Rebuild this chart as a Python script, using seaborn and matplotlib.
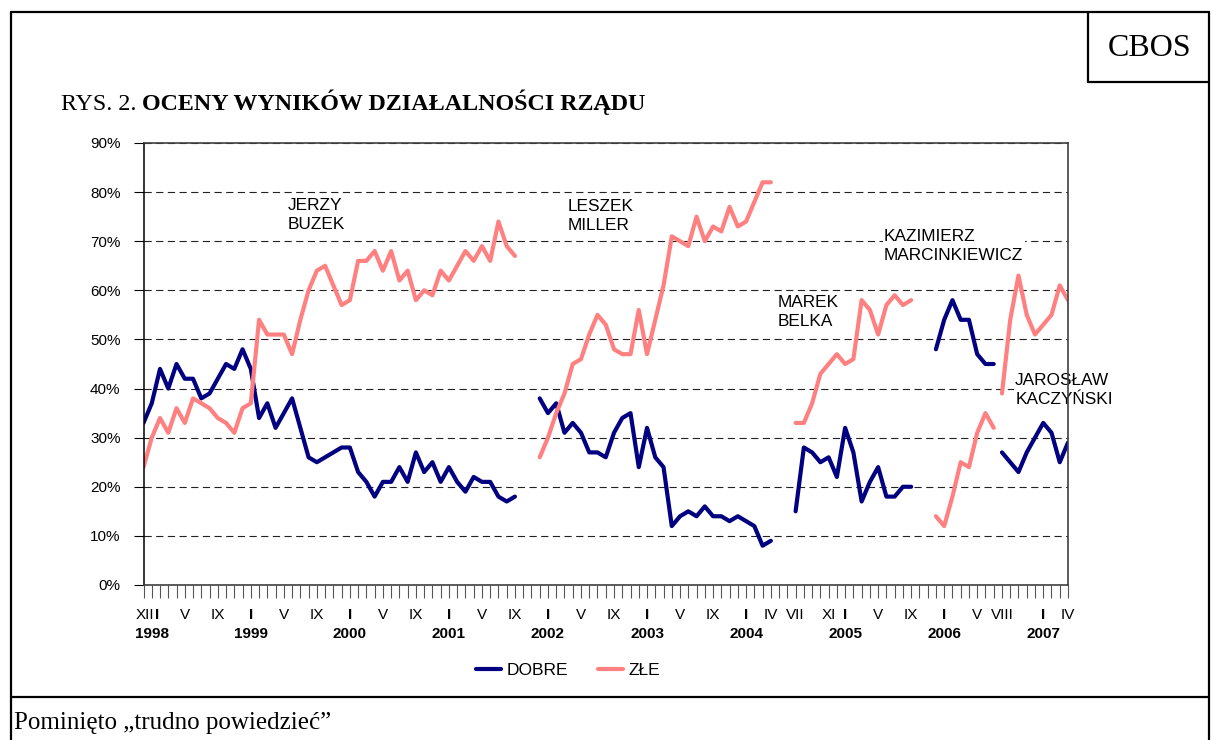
import matplotlib
matplotlib.use("Agg")
import matplotlib.pyplot as plt
import matplotlib.transforms as mtransforms
from matplotlib.lines import Line2D
import numpy as np
import pandas as pd
import seaborn as sns

# months counted from XII 1997 (index 0) to IV 2007 (index 112)
buzek_start = 0
buzek_dobre = [33, 37, 44, 40, 45, 42, 42, 38, 39, 42, 45, 44, 48, 44, 34, 37, 32, 35, 38, 32,
               26, 25, 26, 27, 28, 28, 23, 21, 18, 21, 21, 24, 21, 27, 23, 25, 21, 24, 21, 19,
               22, 21, 21, 18, 17, 18]
buzek_zle = [24, 30, 34, 31, 36, 33, 38, 37, 36, 34, 33, 31, 36, 37, 54, 51, 51, 51, 47, 54,
             60, 64, 65, 61, 57, 58, 66, 66, 68, 64, 68, 62, 64, 58, 60, 59, 64, 62, 65, 68,
             66, 69, 66, 74, 69, 67]

miller_start = 48
miller_dobre = [38, 35, 37, 31, 33, 31, 27, 27, 26, 31, 34, 35, 24, 32, 26, 24, 12, 14, 15, 14,
                16, 14, 14, 13, 14, 13, 12, 8, 9]
miller_zle = [26, 30, 35, 39, 45, 46, 51, 55, 53, 48, 47, 47, 56, 47, 54, 61, 71, 70, 69, 75,
              70, 73, 72, 77, 73, 74, 78, 82, 82]

belka_start = 79
belka_dobre = [15, 28, 27, 25, 26, 22, 32, 27, 17, 21, 24, 18, 18, 20, 20]
belka_zle = [33, 33, 37, 43, 45, 47, 45, 46, 58, 56, 51, 57, 59, 57, 58]

marc_start = 96
marc_dobre = [48, 54, 58, 54, 54, 47, 45, 45]
marc_zle = [14, 12, 18, 25, 24, 31, 35, 32]

kacz_start = 104
kacz_dobre = [27, 25, 23, 27, 30, 33, 31, 25, 29]
kacz_zle = [39, 54, 63, 55, 51, 53, 55, 61, 58]

# x axis labels
tick_months = [0, 1, 5, 9, 13, 17, 21, 25, 29, 33, 37, 41, 45, 49, 53, 57, 61, 65, 69,
               73, 76, 79, 83, 85, 89, 93, 97, 101, 104, 109, 112]
tick_roman = ['XII', 'I', 'V', 'IX', 'I', 'V', 'IX', 'I', 'V', 'IX', 'I', 'V', 'IX', 'I', 'V',
              'IX', 'I', 'V', 'IX', 'I', 'IV', 'VII', 'XI', 'I', 'V', 'IX', 'I', 'V', 'VIII',
              'I', 'IV']
years = ['1998', '1999', '2000', '2001', '2002', '2003', '2004', '2005', '2006', '2007']

# name labels (month, value)
names = ['JERZY\nBUZEK', 'LESZEK\nMILLER', 'MAREK\nBELKA',
         'KAZIMIERZ\nMARCINKIEWICZ', 'JAROSŁAW\nKACZYŃSKI']
name_x = [17.5, 51.4, 76.8, 89.7, 105.6]
name_y = [75.4, 75.2, 55.6, 69.0, 39.7]

NAVY = '#000080'
PINK = '#FF8080'

rows = []
govts = [('buzek', buzek_start, buzek_dobre, buzek_zle),
         ('miller', miller_start, miller_dobre, miller_zle),
         ('belka', belka_start, belka_dobre, belka_zle),
         ('marcinkiewicz', marc_start, marc_dobre, marc_zle),
         ('kaczynski', kacz_start, kacz_dobre, kacz_zle)]
for name, start, dob, zle in govts:
    for i, v in enumerate(dob):
        rows.append({'month': start + i, 'value': v, 'ocena': 'DOBRE', 'rzad': name})
    for i, v in enumerate(zle):
        rows.append({'month': start + i, 'value': v, 'ocena': 'ZŁE', 'rzad': name})
df = pd.DataFrame(rows)

sns.set_style('white')
plt.rcParams['font.family'] = ['Liberation Sans', 'DejaVu Sans']
plt.rcParams['text.color'] = 'black'
plt.rcParams['xtick.labelcolor'] = 'black'
plt.rcParams['ytick.labelcolor'] = 'black'

W, H = 1211, 740
def px(x):
    return x / W
def py(y):
    return 1 - y / H

fig = plt.figure(figsize=(W / 100, H / 100), dpi=100)
ax = fig.add_axes([px(143.5), py(585), (1068 - 143.5) / W, (585 - 143) / H])

sns.lineplot(data=df, x='month', y='value', hue='ocena', units='rzad', estimator=None,
             palette={'DOBRE': NAVY, 'ZŁE': PINK}, hue_order=['DOBRE', 'ZŁE'],
             linewidth=3, legend=False, sort=False, ax=ax)

ax.set_xlim(0, 112)
ax.set_ylim(0, 90)
ax.set_xlabel('')
ax.set_ylabel('')

ax.set_yticks(np.arange(0, 91, 10))
ax.set_yticklabels([f'{v}%' for v in range(0, 91, 10)])
ax.grid(axis='y', linestyle=(0, (6.5, 4)), color='#222222', linewidth=0.8)
ax.grid(axis='x', visible=False)

# XII 1997 and I 1998 are written by hand below, the rest as tick labels
labels = [''] * 113
for m, r in zip(tick_months[2:], tick_roman[2:]):
    labels[m] = r
ax.set_xticks(range(113))
ax.set_xticklabels(labels)
xlabs = ax.get_xticklabels()
for m, r in zip(tick_months, tick_roman):
    if r == 'I':
        xlabs[m].set_fontweight('bold')

ax.tick_params(axis='y', left=True, direction='out', length=7.5, width=0.8,
               color='black', pad=9, labelsize=11)
ax.tick_params(axis='x', bottom=True, direction='out', length=9.5, width=0.8,
               color='#555555', pad=7, labelsize=11)

xtrans = ax.get_xaxis_transform()
roman_y = -(615 - 585) / 442
for m, r, dx, w in [(tick_months[0], tick_roman[0], 1.5, 'normal'),
                    (tick_months[1], tick_roman[1], 5, 'bold')]:
    off = mtransforms.ScaledTranslation(dx / 100, 0, fig.dpi_scale_trans)
    ax.text(m, roman_y, r, transform=xtrans + off, ha='center', va='center',
            fontsize=11, fontweight=w, clip_on=False)

# years under each January
year_months = [m for m, r in zip(tick_months, tick_roman) if r == 'I']
for m, yr in zip(year_months, years):
    ax.text(m, -(634 - 585) / 442, yr, transform=xtrans, ha='center', va='center',
            fontsize=11, fontweight='bold', clip_on=False)

for side in ['top', 'right', 'bottom']:
    ax.spines[side].set_color('#404040')
    ax.spines[side].set_linewidth(1.2)
ax.spines['left'].set_color('black')
ax.spines['left'].set_linewidth(1.1)

for txt, x, y in zip(names, name_x, name_y):
    ax.text(x, y, txt, ha='left', va='center', fontsize=12.4, linespacing=1.32,
            color='black', clip_on=False, zorder=2.2,
            bbox=dict(facecolor='white', edgecolor='none', pad=1))

handles = [Line2D([], [], color=NAVY, lw=3), Line2D([], [], color=PINK, lw=3)]
fig.legend(handles, ['DOBRE', 'ZŁE'], loc='center', bbox_to_anchor=(px(568), py(670)),
           ncol=2, frameon=False, fontsize=12.5, handlelength=1.45, handletextpad=0.3,
           columnspacing=1.75)

# frame around the figure
frame_kw = dict(color='black', lw=1.6, transform=fig.transFigure)
fig.add_artist(Line2D([px(11), px(11)], [py(12), py(740)], **frame_kw))
fig.add_artist(Line2D([px(1209), px(1209)], [py(12), py(740)], **frame_kw))
fig.add_artist(Line2D([px(11), px(1209)], [py(12), py(12)], **frame_kw))
fig.add_artist(Line2D([px(11), px(1209)], [py(697), py(697)], **frame_kw))
fig.add_artist(Line2D([px(1088), px(1088)], [py(12), py(82)], **frame_kw))
fig.add_artist(Line2D([px(1088), px(1209)], [py(82), py(82)], **frame_kw))

serif = ['Liberation Serif', 'DejaVu Serif']
fig.text(px(1150), py(48), 'CBOS', fontsize=23, family=serif, ha='center', va='center')

t1 = fig.text(px(61), py(110), 'RYS. 2.', fontsize=17.3, family=serif, va='baseline')
fig.canvas.draw()
bb = t1.get_window_extent()
fig.text((bb.x1 + 5) / W, py(110), 'OCENY WYNIKÓW DZIAŁALNOŚCI RZĄDU', fontsize=17.3,
         family=serif, fontweight='bold', va='baseline')

fig.text(px(14), py(729), 'Pominięto „trudno powiedzieć”', fontsize=18, family=serif,
         va='baseline')

fig.savefig('out.png', dpi=100)
